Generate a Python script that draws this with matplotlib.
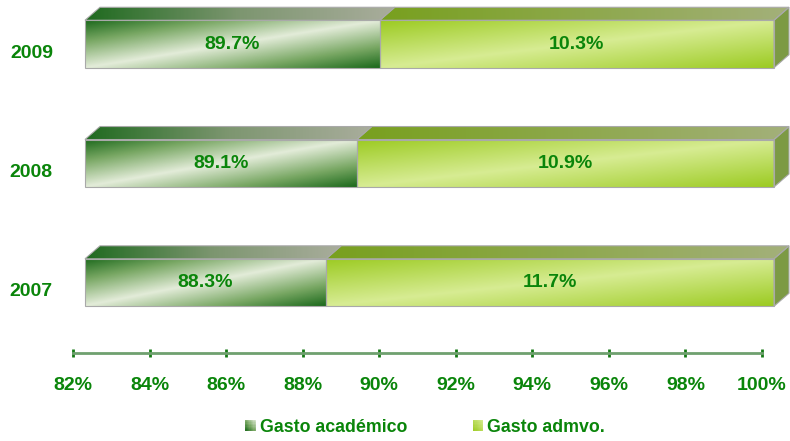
import numpy as np
import matplotlib
matplotlib.use('Agg')
import matplotlib.pyplot as plt
from matplotlib.patches import Polygon, Rectangle, Patch
from matplotlib.colors import LinearSegmentedColormap
from matplotlib.legend_handler import HandlerBase
from matplotlib.transforms import offset_copy

# ---------------- data ----------------
years = ['2007', '2008', '2009']
gasto_academico = [88.3, 89.1, 89.7]
gasto_admvo = [11.7, 10.9, 10.3]
xticks = [82, 84, 86, 88, 90, 92, 94, 96, 98, 100]
xtick_labels = ['82%', '84%', '86%', '88%', '90%', '92%', '94%', '96%', '98%', '100%']
series_names = ['Gasto académico', 'Gasto admvo.']

# ---------------- style ----------------
plt.rcParams['font.family'] = ['Liberation Sans', 'DejaVu Sans']
plt.rcParams['font.weight'] = 'bold'
GREEN = '#0a850a'
W, H = 790, 441
XMIN, XMAX = 82, 100
BAR_H = 0.398
SHIFT_PX = 12          # front face offset from axis
DEPTH_PX = (15, 13)    # 3D depth offset (right, up)
EDGE = '#a9a9a9'

acad_front = LinearSegmentedColormap.from_list(
    'af', [(0, '#1d6a1d'), (0.22, '#78a763'), (0.5, '#e3ecd9'), (0.78, '#78a763'), (1, '#1d6a1d')])
adm_front = LinearSegmentedColormap.from_list(
    'bf', [(0, '#9ccb22'), (0.5, '#d7ec93'), (1, '#9ccb22')])
acad_top = LinearSegmentedColormap.from_list(
    'at', [(0, '#1f6a1f'), (0.5, '#7d9670'), (1, '#a9ad9c')])
adm_top = LinearSegmentedColormap.from_list(
    'bt', [(0, '#78a01e'), (1, '#a3b07a')])
ADM_SIDE = '#7c9a44'

fig = plt.figure(figsize=(W / 100, H / 100), dpi=100)
ax = fig.add_axes([73 / W, 1 - 353 / H, 689 / W, 353 / H])
ax.set_xlim(XMIN, XMAX)
ax.set_ylim(-0.591, 2.369)


def d2p(x, y):
    return ax.transData.transform((x, y))


def p2d(px, py):
    return ax.transData.inverted().transform((px, py))


def shifted(x, y, dx, dy):
    p = d2p(x, y)
    return p2d(p[0] + dx, p[1] + dy)


nx, ny = 300, 60
X = np.linspace(0, 1, nx)
Y = np.linspace(0, 1, ny)
diag_t = (X[None, :] + Y[:, None]) / 2
horiz_t = np.tile(X, (ny, 1))


def draw_segment(xa, xb, y0, y1, front_cmap, top_cmap, side_color=None):
    fa = shifted(xa, y0, SHIFT_PX, 0)[0]
    fb = shifted(xb, y0, SHIFT_PX, 0)[0]
    # front face
    im = ax.imshow(front_cmap(diag_t), extent=[fa, fb, y0, y1], aspect='auto',
                   interpolation='bilinear', zorder=2)
    im.set_clip_on(False)
    ax.add_patch(Rectangle((fa, y0), fb - fa, y1 - y0, fill=False, edgecolor=EDGE,
                           lw=0.8, zorder=3, clip_on=False))
    # top face
    btl = shifted(fa, y1, DEPTH_PX[0], DEPTH_PX[1])
    btr = shifted(fb, y1, DEPTH_PX[0], DEPTH_PX[1])
    top_verts = [(fa, y1), (fb, y1), tuple(btr), tuple(btl)]
    clip_poly = Polygon(top_verts, closed=True, transform=ax.transData)
    im2 = ax.imshow(top_cmap(horiz_t), extent=[fa, btr[0], y1, btl[1]], aspect='auto',
                    interpolation='bilinear', zorder=2)
    im2.set_clip_path(clip_poly)
    im2.set_clip_box(fig.bbox)
    ax.add_patch(Polygon(top_verts, closed=True, fill=False, edgecolor=EDGE, lw=0.8,
                         zorder=3, clip_on=False))
    # side face
    if side_color is not None:
        bbr = shifted(fb, y0, DEPTH_PX[0], DEPTH_PX[1])
        side = [(fb, y0), (fb, y1), tuple(btr), tuple(bbr)]
        ax.add_patch(Polygon(side, closed=True, facecolor=side_color, edgecolor=EDGE,
                             lw=0.8, zorder=2, clip_on=False))
    return fa, fb


for i, yr in enumerate(years):
    y0, y1 = i - BAR_H / 2, i + BAR_H / 2
    a_end = gasto_academico[i]
    b_end = gasto_academico[i] + gasto_admvo[i]
    fa, fb = draw_segment(XMIN, a_end, y0, y1, acad_front, acad_top)
    ax.text((fa + fb) / 2, i, f'{gasto_academico[i]:.1f}%', ha='center', va='center',
            fontsize=14, fontweight='bold', color=GREEN, zorder=5)
    ga, gb = draw_segment(a_end, b_end, y0, y1, adm_front, adm_top, ADM_SIDE)
    ax.text((ga + gb) / 2, i, f'{gasto_admvo[i]:.1f}%', ha='center', va='center',
            fontsize=14, fontweight='bold', color=GREEN, zorder=5)
    ax.text(0, i, yr, transform=offset_copy(ax.get_yaxis_transform(), fig=fig, x=-20, y=-9,
                                            units='dots'),
            ha='right', va='center', fontsize=14, fontweight='bold', color=GREEN)

ax.set_xlim(XMIN, XMAX)
ax.set_ylim(-0.591, 2.369)
ax.set_xticks(xticks, xtick_labels)
ax.set_yticks([])
ax.tick_params(axis='x', direction='inout', length=6, width=2, color='#157a15', pad=14,
               labelsize=14, labelcolor=GREEN)
for lbl in ax.get_xticklabels():
    lbl.set_fontweight('bold')
for s in ['left', 'right', 'top']:
    ax.spines[s].set_visible(False)
ax.spines['bottom'].set_color('#6fa06f')
ax.spines['bottom'].set_linewidth(2)
ax.patch.set_visible(False)


class GradHandler(HandlerBase):
    def __init__(self, cmap, lo, hi, n=8):
        super().__init__()
        self.cmap, self.lo, self.hi, self.n = cmap, lo, hi, n

    def create_artists(self, legend, orig_handle, xdescent, ydescent, width, height,
                       fontsize, trans):
        arts = []
        n = self.n
        for a in range(n):
            for b in range(n):
                t = ((a + 0.5) / n + (b + 0.5) / n) / 2
                c = self.cmap(self.lo + (self.hi - self.lo) * t)
                arts.append(Rectangle((-xdescent + a * width / n, -ydescent + b * height / n),
                                      width / n, height / n, facecolor=c, edgecolor='none',
                                      transform=trans))
        return arts


h1, h2 = Patch(), Patch()
fig.legend(handles=[h1, h2], labels=series_names,
           handler_map={h1: GradHandler(acad_front, 0.0, 0.5),
                        h2: GradHandler(adm_front, 0.0, 0.5)},
           loc='center', bbox_to_anchor=(425 / W, 1 - 427 / H), ncol=2, frameon=False,
           prop={'weight': 'bold', 'size': 12.8}, handlelength=0.6, handleheight=0.6,
           handletextpad=0.2, columnspacing=3.7, labelcolor=GREEN, borderpad=0)

fig.savefig('out.png', dpi=100)
